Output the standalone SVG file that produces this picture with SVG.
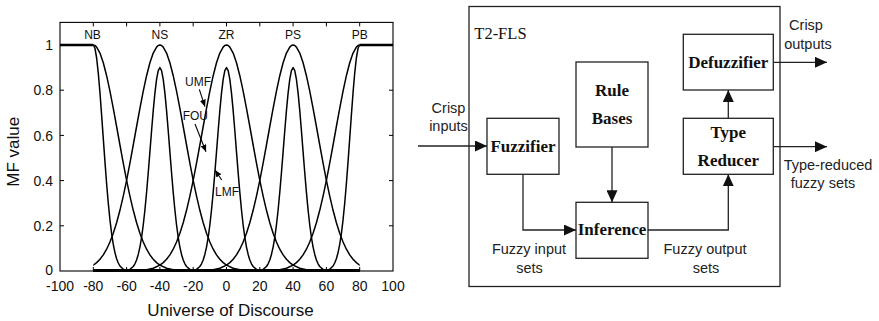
<svg xmlns="http://www.w3.org/2000/svg" width="879" height="321" viewBox="0 0 879 321">
<style>
.ax{fill:none;stroke:#000;stroke-width:1.1}
.tick{stroke:#000;stroke-width:1}
.tl{font-family:"Liberation Sans",Arial,sans-serif;font-size:14px;fill:#111}
.xl{text-anchor:middle}
.yl{text-anchor:end}
.mf{font-family:"Liberation Sans",Arial,sans-serif;font-size:12px;fill:#111;text-anchor:middle}
.ann{font-family:"Liberation Sans",Arial,sans-serif;font-size:12px;fill:#111}
.title{font-family:"Liberation Sans",Arial,sans-serif;font-size:17px;fill:#111;text-anchor:middle}
.crv{fill:none;stroke:#000;stroke-width:1.5;stroke-linejoin:round}
.thick{stroke:#000;stroke-width:2.6;fill:none}
.box{fill:#fff;stroke:#222;stroke-width:1.3}
.bt{font-family:"Liberation Serif","Times New Roman",serif;font-weight:bold;font-size:17px;fill:#111;text-anchor:middle}
.lbl{font-family:"Liberation Sans",Arial,sans-serif;font-size:14.5px;fill:#222;text-anchor:middle}
.con{fill:none;stroke:#222;stroke-width:1.3}
.arr{stroke:#000;stroke-width:1.1;fill:none}
</style>
<defs>
<marker id="ah" markerUnits="userSpaceOnUse" markerWidth="12" markerHeight="11" refX="12" refY="5.5" orient="auto"><path d="M0,0 L12,5.5 L0,11 z" fill="#111"/></marker>
<marker id="sa" markerUnits="userSpaceOnUse" markerWidth="7" markerHeight="6" refX="7" refY="3" orient="auto"><path d="M0,0 L7,3 L0,6 z" fill="#000"/></marker>
<path id="umf" d="M-170,0 L-100,0 -93.24,-0.2 -86.58,-0.5 -79.92,-1.2 -73.26,-2.7 -66.6,-5.9 -63.27,-8.4 -59.94,-11.7 -56.61,-16.1 -53.28,-21.8 -49.95,-29 -46.62,-37.7 -43.29,-48.3 -39.96,-60.7 -36.63,-74.9 -33.3,-90.7 -29.97,-107.8 -26.64,-126 -23.31,-144.5 -19.98,-162.7 -16.65,-179.9 -13.32,-195.3 -9.99,-208.2 -6.66,-217.9 -3.33,-223.9 -1.67,-225.5 0,-226 1.67,-225.5 3.33,-223.9 6.66,-217.9 9.99,-208.2 13.32,-195.3 16.65,-179.9 19.98,-162.7 23.31,-144.5 26.64,-126 29.97,-107.8 33.3,-90.7 36.63,-74.9 39.96,-60.7 43.29,-48.3 46.62,-37.7 49.95,-29 53.28,-21.8 56.61,-16.1 59.94,-11.7 63.27,-8.4 66.6,-5.9 73.26,-2.7 79.92,-1.2 86.58,-0.5 93.24,-0.2 100,0 170,0"/>
<path id="lmf1" d="M-170,0 L-40,0 -33.3,-0.6 -29.97,-1.8 -26.64,-5 -24.98,-8 -23.31,-12.3 -21.65,-18.4 -19.98,-26.6 -18.32,-37.4 -16.65,-51.1 -14.99,-67.8 -13.32,-87.3 -11.66,-109.1 -9.99,-132.4 -8.33,-155.9 -6.66,-178.2 -5,-197.7 -3.33,-213 -1.67,-222.7 0,-226 1.67,-222.7 3.33,-213 5,-197.7 6.66,-178.2 8.33,-155.9 9.99,-132.4 11.66,-109.1 13.32,-87.3 14.99,-67.8 16.65,-51.1 18.32,-37.4 19.98,-26.6 21.65,-18.4 23.31,-12.3 24.98,-8 26.64,-5 29.97,-1.8 33.3,-0.6 40,0 170,0"/>
<path id="lmf9" d="M-170,0 L-40,0 -33.3,-0.54 -29.97,-1.62 -26.64,-4.5 -24.98,-7.2 -23.31,-11.07 -21.65,-16.56 -19.98,-23.94 -18.32,-33.66 -16.65,-45.99 -14.99,-61.02 -13.32,-78.57 -11.66,-98.19 -9.99,-119.16 -8.33,-140.31 -6.66,-160.38 -5,-177.93 -3.33,-191.7 -1.67,-200.43 0,-203.4 1.67,-200.43 3.33,-191.7 5,-177.93 6.66,-160.38 8.33,-140.31 9.99,-119.16 11.66,-98.19 13.32,-78.57 14.99,-61.02 16.65,-45.99 18.32,-33.66 19.98,-23.94 21.65,-16.56 23.31,-11.07 24.98,-7.2 26.64,-4.5 29.97,-1.62 33.3,-0.54 40,0 170,0"/>
<clipPath id="pc"><rect x="93.3" y="20" width="266.4" height="255"/></clipPath>
</defs>

<g id="plot">
  <g id="curves" clip-path="url(#pc)" class="crv">
    <use href="#umf" transform="translate(93.3,271)"/>
    <use href="#lmf1" transform="translate(93.3,271)"/>
    <use href="#umf" transform="translate(159.9,271)"/>
    <use href="#lmf9" transform="translate(159.9,271)"/>
    <use href="#umf" transform="translate(226.5,271)"/>
    <use href="#lmf9" transform="translate(226.5,271)"/>
    <use href="#umf" transform="translate(293.1,271)"/>
    <use href="#lmf9" transform="translate(293.1,271)"/>
    <use href="#umf" transform="translate(359.7,271)"/>
    <use href="#lmf1" transform="translate(359.7,271)"/>
  </g>
  <path class="thick" d="M60,45 H93.3 M359.7,45 H393 M93.3,270.3 H359.7"/>
  <rect class="ax" x="60" y="22.4" width="333" height="248.6"/>
  <path class="tick" d="M93.3,22.4v4 M126.6,22.4v4 M159.9,22.4v4 M193.2,22.4v4 M226.5,22.4v4 M259.8,22.4v4 M293.1,22.4v4 M326.4,22.4v4 M359.7,22.4v4
  M93.3,271v-4 M126.6,271v-4 M159.9,271v-4 M193.2,271v-4 M226.5,271v-4 M259.8,271v-4 M293.1,271v-4 M326.4,271v-4 M359.7,271v-4
  M60,225.8h4 M60,180.6h4 M60,135.4h4 M60,90.2h4 M60,45h4
  M393,225.8h-4 M393,180.6h-4 M393,135.4h-4 M393,90.2h-4 M393,45h-4"/>
  <g class="tl yl">
    <text x="53" y="274.8">0</text>
    <text x="53" y="231">0.2</text>
    <text x="53" y="185.8">0.4</text>
    <text x="53" y="140.6">0.6</text>
    <text x="53" y="95.4">0.8</text>
    <text x="53" y="50.2">1</text>
  </g>
  <g class="tl xl">
    <text x="60" y="290.5">-100</text>
    <text x="93.3" y="290.5">-80</text>
    <text x="126.6" y="290.5">-60</text>
    <text x="159.9" y="290.5">-40</text>
    <text x="193.2" y="290.5">-20</text>
    <text x="226.5" y="290.5">0</text>
    <text x="259.8" y="290.5">20</text>
    <text x="293.1" y="290.5">40</text>
    <text x="326.4" y="290.5">60</text>
    <text x="359.7" y="290.5">80</text>
    <text x="393" y="290.5">100</text>
  </g>
  <g class="mf">
    <text x="92.5" y="39.3">NB</text>
    <text x="159.9" y="39.3">NS</text>
    <text x="226.5" y="39.3">ZR</text>
    <text x="293.1" y="39.3">PS</text>
    <text x="359.7" y="39.3">PB</text>
  </g>
  <text class="title" x="230.5" y="316">Universe of Discourse</text>
  <text class="title" transform="translate(19.3,151.7) rotate(-90)">MF value</text>
  <g id="annotations">
    <text class="ann" x="185" y="85.7">UMF</text>
    <line class="arr" x1="199.3" y1="89.3" x2="205" y2="106.7" marker-end="url(#sa)"/>
    <text class="ann" x="182.7" y="120">FOU</text>
    <line class="arr" x1="195" y1="124" x2="206" y2="151.7" marker-end="url(#sa)"/>
    <text class="ann" x="215" y="195.7">LMF</text>
    <line class="arr" x1="221.7" y1="180" x2="215" y2="170" marker-end="url(#sa)"/>
  </g>
</g>

<g id="t2fls">
  <rect class="box" x="469" y="6.5" width="311" height="280"/>
  <text x="474.3" y="39.3" style="font-family:'Liberation Serif','Times New Roman',serif;font-size:16.5px;fill:#111">T2-FLS</text>
</g>
<g id="connectors">
  <path class="con" d="M418,146 H487" marker-end="url(#ah)"/>
  <path class="con" d="M523,174.3 V230 H576" marker-end="url(#ah)"/>
  <path class="con" d="M612,147 V202.3" marker-end="url(#ah)"/>
  <path class="con" d="M648,230 H728.3 V174.3" marker-end="url(#ah)"/>
  <path class="con" d="M728.3,118.3 V90" marker-end="url(#ah)"/>
  <path class="con" d="M773.3,62.3 H827" marker-end="url(#ah)"/>
  <path class="con" d="M773.3,146.7 H827" marker-end="url(#ah)"/>
</g>
<g id="rulebases">
  <rect class="box" x="576" y="62" width="72" height="85"/>
  <text class="bt" x="612" y="96">Rule</text>
  <text class="bt" x="612" y="124">Bases</text>
</g>
<g id="fuzzifier">
  <rect class="box" x="487" y="118.3" width="72" height="56"/>
  <text class="bt" x="523" y="151.5">Fuzzifier</text>
</g>
<g id="inference">
  <rect class="box" x="576" y="202.3" width="72" height="56"/>
  <text class="bt" x="612" y="235">Inference</text>
</g>
<g id="defuzzifier">
  <rect class="box" x="683.3" y="34.3" width="90" height="55.7"/>
  <text class="bt" x="728.3" y="68">Defuzzifier</text>
</g>
<g id="typereducer">
  <rect class="box" x="683.3" y="118.3" width="90" height="56"/>
  <text class="bt" x="728.3" y="137.7">Type</text>
  <text class="bt" x="728.3" y="165.5">Reducer</text>
</g>
<g id="labels" class="lbl">
  <text x="448.5" y="113">Crisp</text>
  <text x="448.5" y="131">inputs</text>
  <text x="529" y="254">Fuzzy input</text>
  <text x="529.5" y="273">sets</text>
  <text x="705" y="254">Fuzzy output</text>
  <text x="706" y="273">sets</text>
  <text x="806" y="30">Crisp</text>
  <text x="808" y="49">outputs</text>
  <text x="828" y="169.5">Type-reduced</text>
  <text x="823" y="188">fuzzy sets</text>
</g>
</svg>
